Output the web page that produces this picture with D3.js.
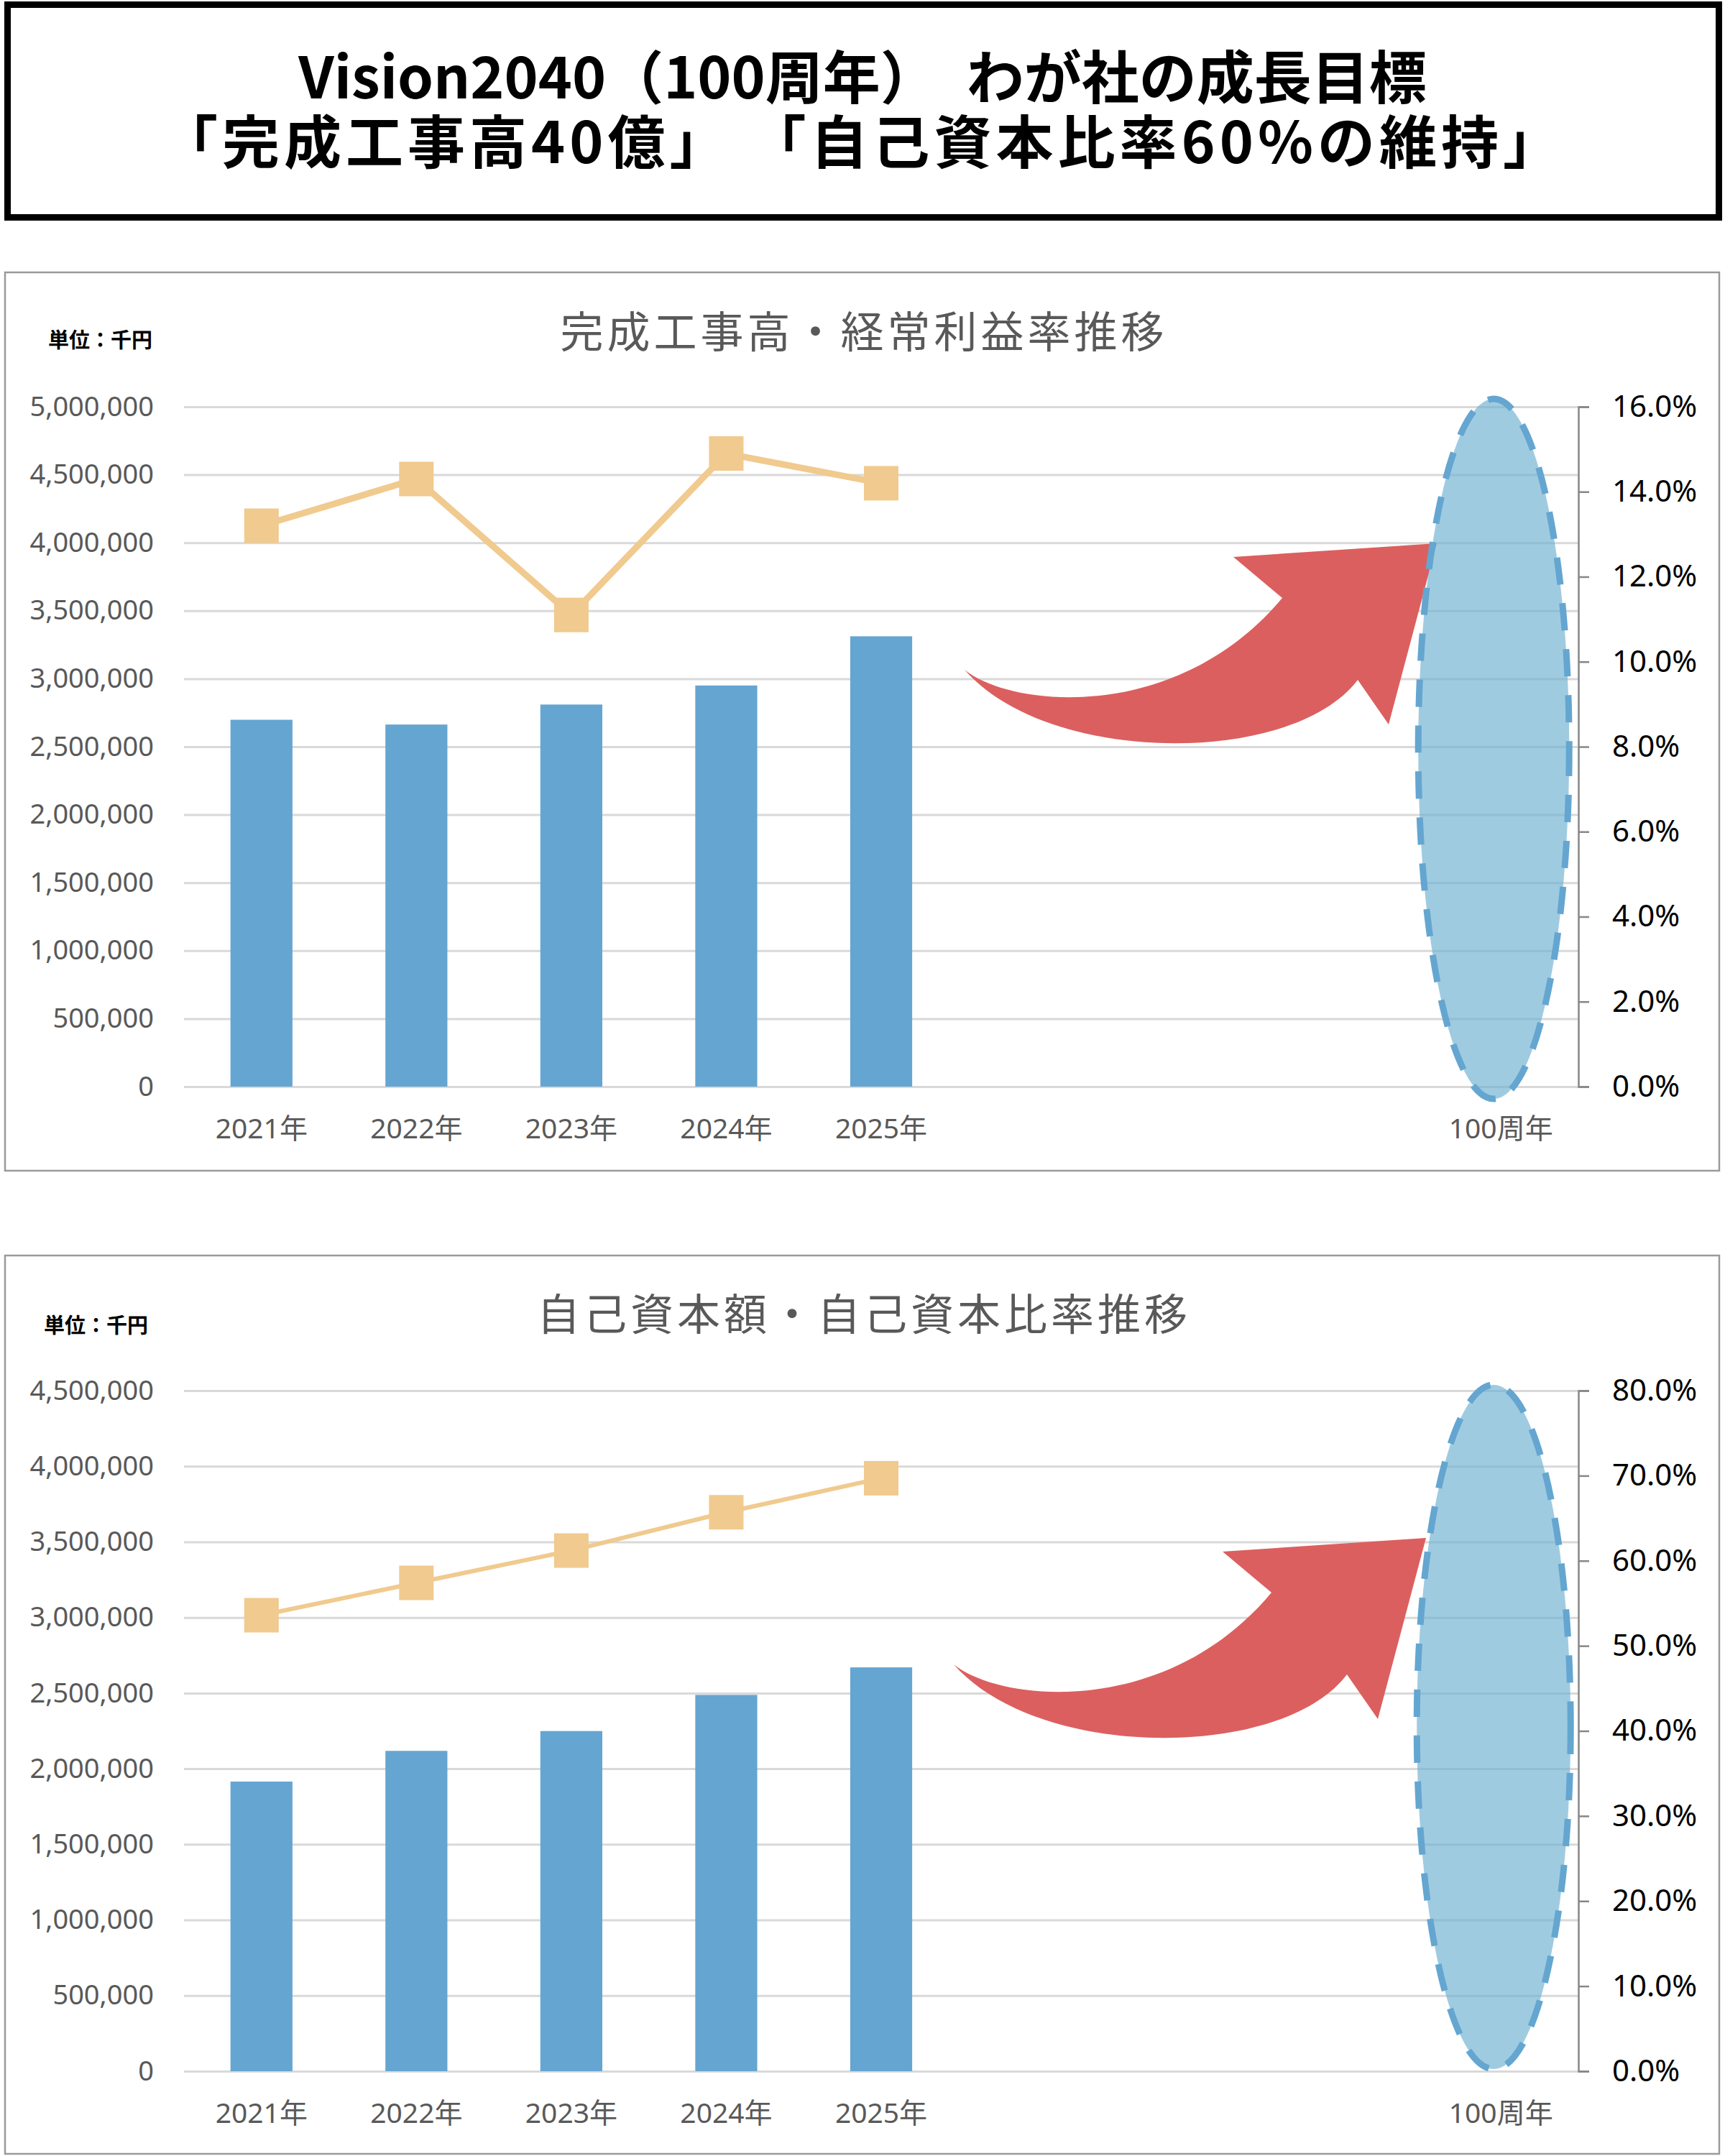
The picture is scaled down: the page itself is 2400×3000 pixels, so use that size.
<!DOCTYPE html>
<html>
<head>
<meta charset="utf-8">
<script src="https://cdn.jsdelivr.net/npm/d3@7"></script>
<style>
  body { margin: 0; background: #fff; }
  text { font-family: "Noto Sans", "Noto Sans CJK JP", sans-serif; }
</style>
</head>
<body>
<div id="chart"></div>
<script>
// categories on the x axis (the three blank slots sit between 2025 and the 100th year)
var categoryKeys = ["2021", "2022", "2023", "2024", "2025", "2026", "2027", "2028", "2040"];
var categoryLabels = ["2021年", "2022年", "2023年", "2024年", "2025年", "", "", "", "100周年"];
var dataYears = ["2021", "2022", "2023", "2024", "2025"];

// 完成工事高 (千円) and 経常利益率 (%)
var sales = [2698000, 2663000, 2810000, 2950000, 3312000];
var profitRate = [13.2, 14.3, 11.1, 14.9, 14.2];

// 自己資本額 (千円) and 自己資本比率 (%)
var equity = [1915000, 2118000, 2249000, 2488000, 2670000];
var equityRatio = [53.6, 57.4, 61.2, 65.7, 69.7];

var titleLines = ["Vision2040（100周年）　わが社の成長目標", "「完成工事高40億」 「自己資本比率60%の維持」"];

var pageWidth = 2400,
    pageHeight = 3000,
    plotLeft = 256,
    plotRight = 2196,
    plotWidth = plotRight - plotLeft;

var barColor = "#65A5D1",
    lineColor = "#F0CA8E",
    arrowColor = "#DC5F5F";

var svg = d3.select("#chart").append("svg")
    .attr("width", pageWidth)
    .attr("height", pageHeight);

// heading box
svg.append("rect")
    .attr("x", 10.5)
    .attr("y", 6.5)
    .attr("width", 2381)
    .attr("height", 296)
    .attr("fill", "#fff")
    .attr("stroke", "#000")
    .attr("stroke-width", 9);

var headline = svg.append("text")
    .attr("x", pageWidth / 2)
    .attr("y", 109)
    .attr("text-anchor", "middle")
    .style("font-family", "'Noto Sans CJK JP', sans-serif")
    .style("font-weight", 700)
    .style("font-size", "80px")
    .attr("fill", "#000");

headline.selectAll("tspan")
    .data(titleLines)
    .enter().append("tspan")
    .attr("x", pageWidth / 2)
    .attr("y", function (d, i) { return 109 + i * 90; })
    .attr("dy", "0.35em")
    // second line is set a little looser, like the original
    .style("letter-spacing", function (d, i) { return i == 0 ? "0px" : "6px"; })
    .text(function (d) { return d; });

// arrow outline, relative to its tip
var arrowShape = {
    tail: [-657, 176],
    upperCtrl: [[-590, 230], [-360, 250]],
    notchUp: [-215, 76],
    wingUp: [-283, 19],
    wingLow: [-67, 252],
    notchLow: [-110, 190],
    lowerCtrl: [[-200, 310], [-540, 310]]
};

function arrowPath(tx, ty) {
    var p = function (pt) { return (tx + pt[0]) + "," + (ty + pt[1]); };
    var a = arrowShape;
    return "M" + p(a.tail) +
        "C" + p(a.upperCtrl[0]) + " " + p(a.upperCtrl[1]) + " " + p(a.notchUp) +
        "L" + p(a.wingUp) +
        "L" + p([0, 0]) +
        "L" + p(a.wingLow) +
        "L" + p(a.notchLow) +
        "C" + p(a.lowerCtrl[0]) + " " + p(a.lowerCtrl[1]) + " " + p(a.tail) + "Z";
}

function drawChart(cfg) {

    var g = svg.append("g");

    g.append("rect")
        .attr("x", 7)
        .attr("y", cfg.top)
        .attr("width", 2385)
        .attr("height", 1250)
        .attr("fill", "#fff")
        .attr("stroke", "#9a9a9a")
        .attr("stroke-width", 2.5);

    g.append("text")
        .attr("x", 1202)
        .attr("y", cfg.titleY)
        .attr("dy", "0.35em")
        .attr("text-anchor", "middle")
        .style("font-family", "'Noto Sans CJK JP', sans-serif")
        .style("font-size", "60px")
        .style("letter-spacing", "5px")
        .attr("fill", "#595959")
        .text(cfg.title);

    g.append("text")
        .attr("x", cfg.unitX)
        .attr("y", cfg.unitY)
        .attr("dy", "0.35em")
        .style("font-family", "'Noto Sans CJK JP', sans-serif")
        .style("font-size", "29px")
        .style("font-weight", 700)
        .attr("fill", "#000")
        .text("単位：千円");

    var plot = g.append("g")
        .attr("transform", "translate(" + plotLeft + "," + cfg.plotTop + ")");

    var height = cfg.plotBottom - cfg.plotTop;

    var x = d3.scaleBand().domain(categoryKeys).range([0, plotWidth]).padding(0),
        yL = d3.scaleLinear().domain([0, cfg.leftMax]).range([height, 0]),
        yR = d3.scaleLinear().domain([0, cfg.rightMax]).range([height, 0]);

    var xc = function (k) { return x(k) + x.bandwidth() / 2; };

    // gridlines + left labels
    var left = plot.append("g")
        .call(d3.axisLeft(yL)
            .ticks(cfg.leftTicks)
            .tickSize(-plotWidth)
            .tickPadding(42)
            .tickFormat(d3.format(","))
        );
    left.select(".domain").remove();
    left.selectAll("line").attr("stroke", "#D9D9D9").attr("stroke-width", 3);
    left.selectAll("text")
        .attr("fill", "#595959")
        .style("font-size", "38px")
        .style("font-family", "'Noto Sans', sans-serif");

    // right axis
    var right = plot.append("g")
        .attr("transform", "translate(" + plotWidth + ",0)")
        .call(d3.axisRight(yR)
            .ticks(cfg.rightTicks)
            .tickSize(15)
            .tickSizeOuter(15)
            .tickPadding(32)
            .tickFormat(function (d) { return d3.format(".1f")(d) + "%"; })
        );
    right.selectAll("line, .domain").attr("stroke", "#878787").attr("stroke-width", 2.5);
    right.selectAll("text")
        .attr("fill", "#000")
        .style("font-size", "42px")
        .style("font-family", "'Noto Sans', sans-serif");

    // category labels
    var bottom = plot.append("g")
        .attr("transform", "translate(0," + height + ")")
        .call(d3.axisBottom(x)
            .tickSize(0)
            .tickPadding(0)
            .tickFormat(function (d, i) { return categoryLabels[i]; })
        );
    bottom.select(".domain").remove();
    bottom.selectAll("text")
        .attr("y", 58)
        .attr("dy", "0.35em")
        .attr("fill", "#595959")
        .style("font-size", "39px")
        .style("font-family", "'Noto Sans', 'Noto Sans CJK JP', sans-serif");

    // bars
    plot.selectAll(".bar")
        .data(cfg.bars)
        .enter().append("rect")
        .attr("class", "bar")
        .attr("x", function (d, i) { return x(dataYears[i]) + x.bandwidth() * 0.3; })
        .attr("y", function (d) { return yL(d); })
        .attr("width", x.bandwidth() * 0.4)
        .attr("height", function (d) { return height - yL(d); })
        .attr("fill", barColor);

    // rate line
    var line = d3.line()
        .x(function (d, i) { return xc(dataYears[i]); })
        .y(function (d) { return yR(d); });

    plot.append("path")
        .datum(cfg.rate)
        .attr("d", line)
        .attr("fill", "none")
        .attr("stroke", lineColor)
        .attr("stroke-width", cfg.lineWidth);

    plot.selectAll(".marker")
        .data(cfg.rate)
        .enter().append("rect")
        .attr("class", "marker")
        .attr("x", function (d, i) { return xc(dataYears[i]) - 24; })
        .attr("y", function (d) { return yR(d) - 24; })
        .attr("width", 48)
        .attr("height", 48)
        .attr("fill", lineColor);

    // curved arrow pointing to the goal
    plot.append("path")
        .attr("d", arrowPath(cfg.tip[0], cfg.tip[1]))
        .attr("fill", arrowColor);

    // goal ellipse at 100周年
    plot.append("ellipse")
        .attr("cx", xc("2040") - 10)
        .attr("cy", cfg.ellipse.cy)
        .attr("rx", cfg.ellipse.rx)
        .attr("ry", cfg.ellipse.ry)
        .attr("fill", "rgb(107,175,209)")
        .attr("fill-opacity", 0.65)
        .attr("stroke", "#64A6D0")
        .attr("stroke-width", 9)
        .attr("stroke-dasharray", "38,26");
}

drawChart({
    top: 379,
    title: "完成工事高・経常利益率推移",
    titleY: 463,
    unitX: 67,
    unitY: 474,
    plotTop: 566,
    plotBottom: 1512,
    leftMax: 5000000,
    leftTicks: 10,
    rightMax: 16,
    rightTicks: 8,
    bars: sales,
    rate: profitRate,
    lineWidth: 9,
    tip: [1743, 190],
    ellipse: {cy: 476, rx: 105, ry: 487}
});

drawChart({
    top: 1747,
    title: "自己資本額・自己資本比率推移",
    titleY: 1830,
    unitX: 61,
    unitY: 1845,
    plotTop: 1935,
    plotBottom: 2882,
    leftMax: 4500000,
    leftTicks: 9,
    rightMax: 80,
    rightTicks: 8,
    bars: equity,
    rate: equityRatio,
    lineWidth: 6,
    tip: [1728, 205],
    ellipse: {cy: 468, rx: 107, ry: 476}
});
</script>
</body>
</html>
